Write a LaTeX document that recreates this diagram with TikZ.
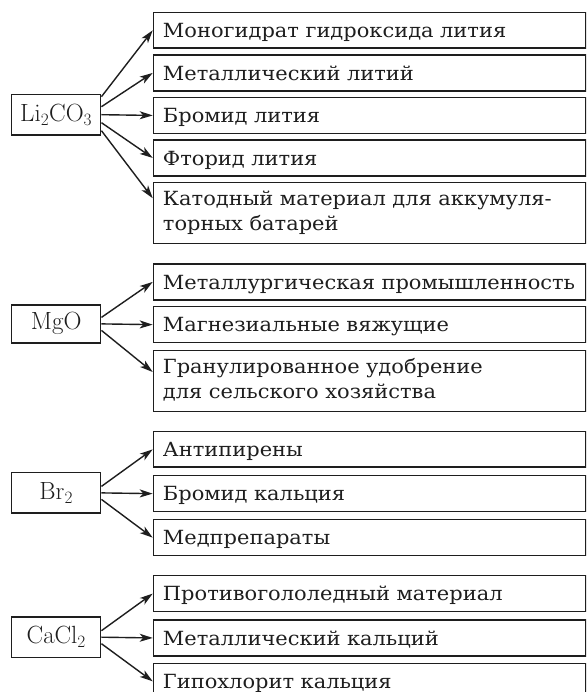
\documentclass[tikz,border=0pt]{standalone}
\usepackage[no-math]{fontspec}
\setmainfont[FakeStretch=1.075]{DejaVu Serif}
\usetikzlibrary{arrows.meta}
\definecolor{ink}{RGB}{30,30,30}
\begin{document}
\begin{tikzpicture}[x=1pt,y=1pt,
  tbox/.style={draw=ink, line width=1.5pt, anchor=north west, minimum width=432.3pt,
    minimum height=35.8pt, text width=415.3pt, inner xsep=8.5pt, inner ysep=0pt,
    align=left, text height=14.2pt, text depth=0pt,
    font=\fontsize{19.5}{25}\selectfont, text=ink},
  tbox2/.style={tbox, minimum height=61pt, text depth=30pt},
  sbox/.style={draw=ink, line width=1.5pt, minimum width=89pt, minimum height=40.5pt,
    inner sep=0pt, font=\fontsize{25}{29}\selectfont, text=ink},
  arr/.style={draw=ink, line width=1.4pt, -{Stealth[length=13pt,width=8pt,inset=3.5pt]}}
]
\clip (0,0) rectangle (586,692);
\fill[white] (0,0) rectangle (586,692);

% group 1
\node[sbox] (s1) at (56.2,577.3) {$\mathrm{Li_2CO_3}$};
\node[tbox] (a1) at (152.7,680.3) {\hspace{1pt}Моногидрат гидроксида лития};
\node[tbox] (a2) at (152.7,637.7) {\hspace{1pt}Металлический литий};
\node[tbox] (a3) at (152.7,595.2) {\hspace{1pt}Бромид лития};
\node[tbox] (a4) at (152.7,552.7) {\hspace{1pt}Фторид лития};
\node[tbox2] (a5) at (152.7,510.3) {\hspace{1pt}Катодный материал для аккумуля-\\\hspace{1pt}торных батарей};
\draw[arr] ([yshift=18pt]s1.east) -- (a1.west);
\draw[arr] ([yshift=8pt]s1.east) -- (a2.west);
\draw[arr] (s1.east) -- (a3.west);
\draw[arr] ([yshift=-8pt]s1.east) -- (a4.west);
\draw[arr] ([yshift=-16pt]s1.east) -- ([yshift=-16.5pt]a5.north west);

% group 2
\node[sbox, minimum height=38pt] (s2) at (56.2,368.1) {$\mathrm{MgO}$};
\node[tbox] (b1) at (152.7,428.7) {\hspace{1pt}\mbox{Металлургическая промышленность}};
\node[tbox] (b2) at (152.7,386) {\hspace{1pt}Магнезиальные вяжущие};
\node[tbox2] (b3) at (152.7,342) {\hspace{1pt}Гранулированное удобрение\\\hspace{1pt}для сельского хозяйства};
\draw[arr] ([yshift=6.5pt]s2.east) -- (b1.west);
\draw[arr] (s2.east) -- (b2.west);
\draw[arr] ([yshift=-6.5pt]s2.east) -- ([yshift=-22pt]b3.north west);

% group 3
\node[sbox] (s3) at (56.2,199.1) {$\mathrm{Br_2}$};
\node[tbox] (c1) at (152.7,261.3) {\hspace{1pt}Антипирены};
\node[tbox] (c2) at (152.7,217) {\hspace{1pt}Бромид кальция};
\node[tbox] (c3) at (152.7,173) {\hspace{1pt}Медпрепараты};
\draw[arr] ([yshift=6.5pt]s3.east) -- (c1.west);
\draw[arr] (s3.east) -- (c2.west);
\draw[arr] ([yshift=-6.5pt]s3.east) -- (c3.west);

% group 4
\node[sbox] (s4) at (56.2,54.8) {$\mathrm{CaCl_2}$};
\node[tbox] (d1) at (152.7,117) {\hspace{1pt}Противогололедный материал};
\node[tbox] (d2) at (152.7,72.7) {\hspace{1pt}Металлический кальций};
\node[tbox] (d3) at (152.7,29.3) {\hspace{1pt}Гипохлорит кальция};
\draw[arr] ([yshift=6.5pt]s4.east) -- (d1.west);
\draw[arr] (s4.east) -- (d2.west);
\draw[arr] ([yshift=-6.5pt]s4.east) -- (d3.west);
\end{tikzpicture}
\end{document}
